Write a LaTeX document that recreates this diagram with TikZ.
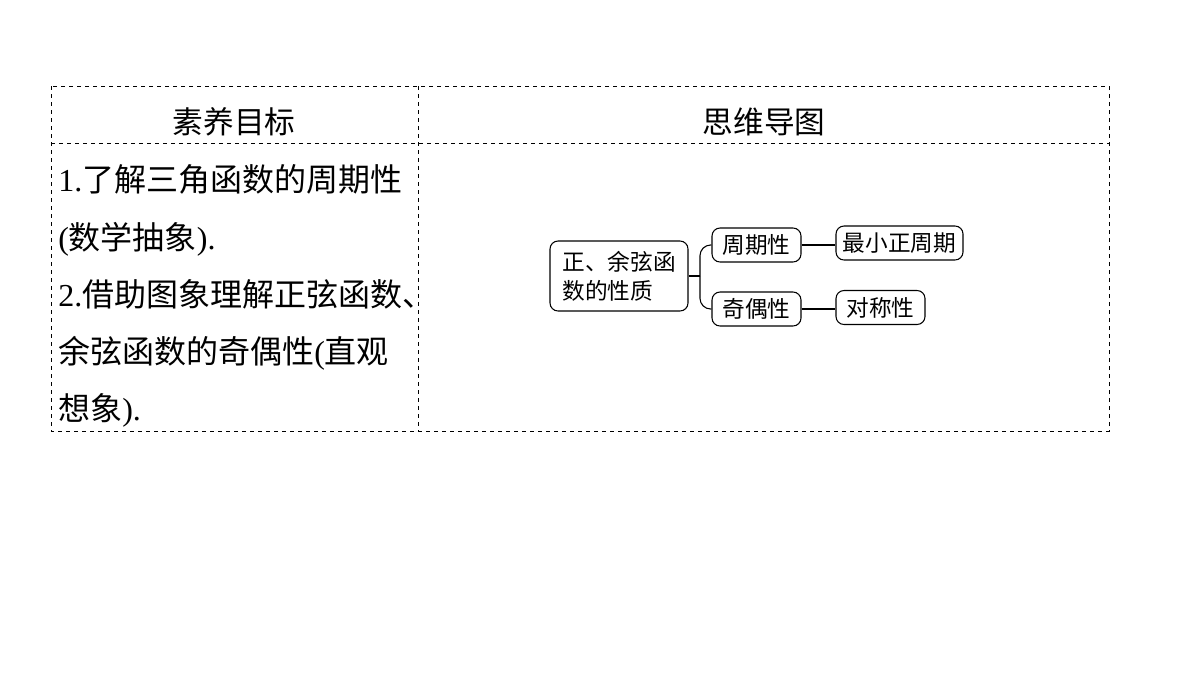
\documentclass[tikz,border=0pt]{standalone}
\usepackage{fontspec}
\setmainfont{Liberation Serif}
\newfontfamily\cjk{Noto Sans CJK SC}
\usetikzlibrary{positioning}
\tikzset{
  cell/.style={draw, dashed, line width=0.6pt},
  head/.style={font=\cjk\fontsize{23}{26}\selectfont, inner sep=0.75pt},
  goal/.style={anchor=base west, font=\fontsize{24}{26}\selectfont, inner sep=0.75pt},
  box/.style={draw, rounded corners=6pt, line width=0.8pt, font=\cjk\fontsize{17}{22}\selectfont, align=left, inner sep=0pt, minimum height=34\pxu},
  link/.style={line width=0.8pt}
}
\newlength{\pxu}\setlength{\pxu}{0.75pt}
\begin{document}
\begin{tikzpicture}[x=0.75pt,y=0.75pt,yscale=-1,xscale=1]
\useasboundingbox (0,0) rectangle (1200,675);

% table frame
\draw [cell] (51,86) rectangle (1109,431);
\draw [cell] (418,86) -- (418,431);
\draw [cell] (51,143) -- (1109,143);

% headers
\node [head] (goalhead) at (234,122) {素养目标};
\node [head] (maphead) at (764,122) {思维导图};

% goals
\node [goal] (g1) at (57,191) {1.{\cjk 了解三角函数的周期性}};
\node [goal] (g2) at (57,249) {({\cjk 数学抽象}).};
\node [goal] (g3) at (57,306) {2.{\cjk 借助图象理解正弦函数、}};
\node [goal] (g4) at (57,363) {{\cjk 余弦函数的奇偶性}(\cjk 直观};
\node [goal] (g5) at (57,420) {{\cjk 想象}).};

% mind map
\node [box, minimum width=138\pxu, minimum height=70\pxu, font=\cjk\fontsize{17}{24}\selectfont] (prop) at (619,276) {正、余弦函\\[-2pt]数的性质\hspace{1em}};
\node [box, minimum width=89\pxu] (period) at (756.5,245) {周期性};
\node [box, minimum width=89\pxu] (parity) at (756.5,309) {奇偶性};
\node [box, minimum width=127\pxu] (minper) at (899.5,243) {最小正周期};
\node [box, minimum width=89\pxu] (symm) at (880.5,307.5) {对称性};

\coordinate (fork) at (700,276);
\draw [link] (prop.east) -- (fork);
\draw [link, rounded corners=8pt] (fork) |- (period.west);
\draw [link, rounded corners=8pt] (fork) |- (parity.west);
\draw [link] (period.east) -- (period.east -| minper.west);
\draw [link] (parity.east) -- (parity.east -| symm.west);
\end{tikzpicture}
\end{document}
